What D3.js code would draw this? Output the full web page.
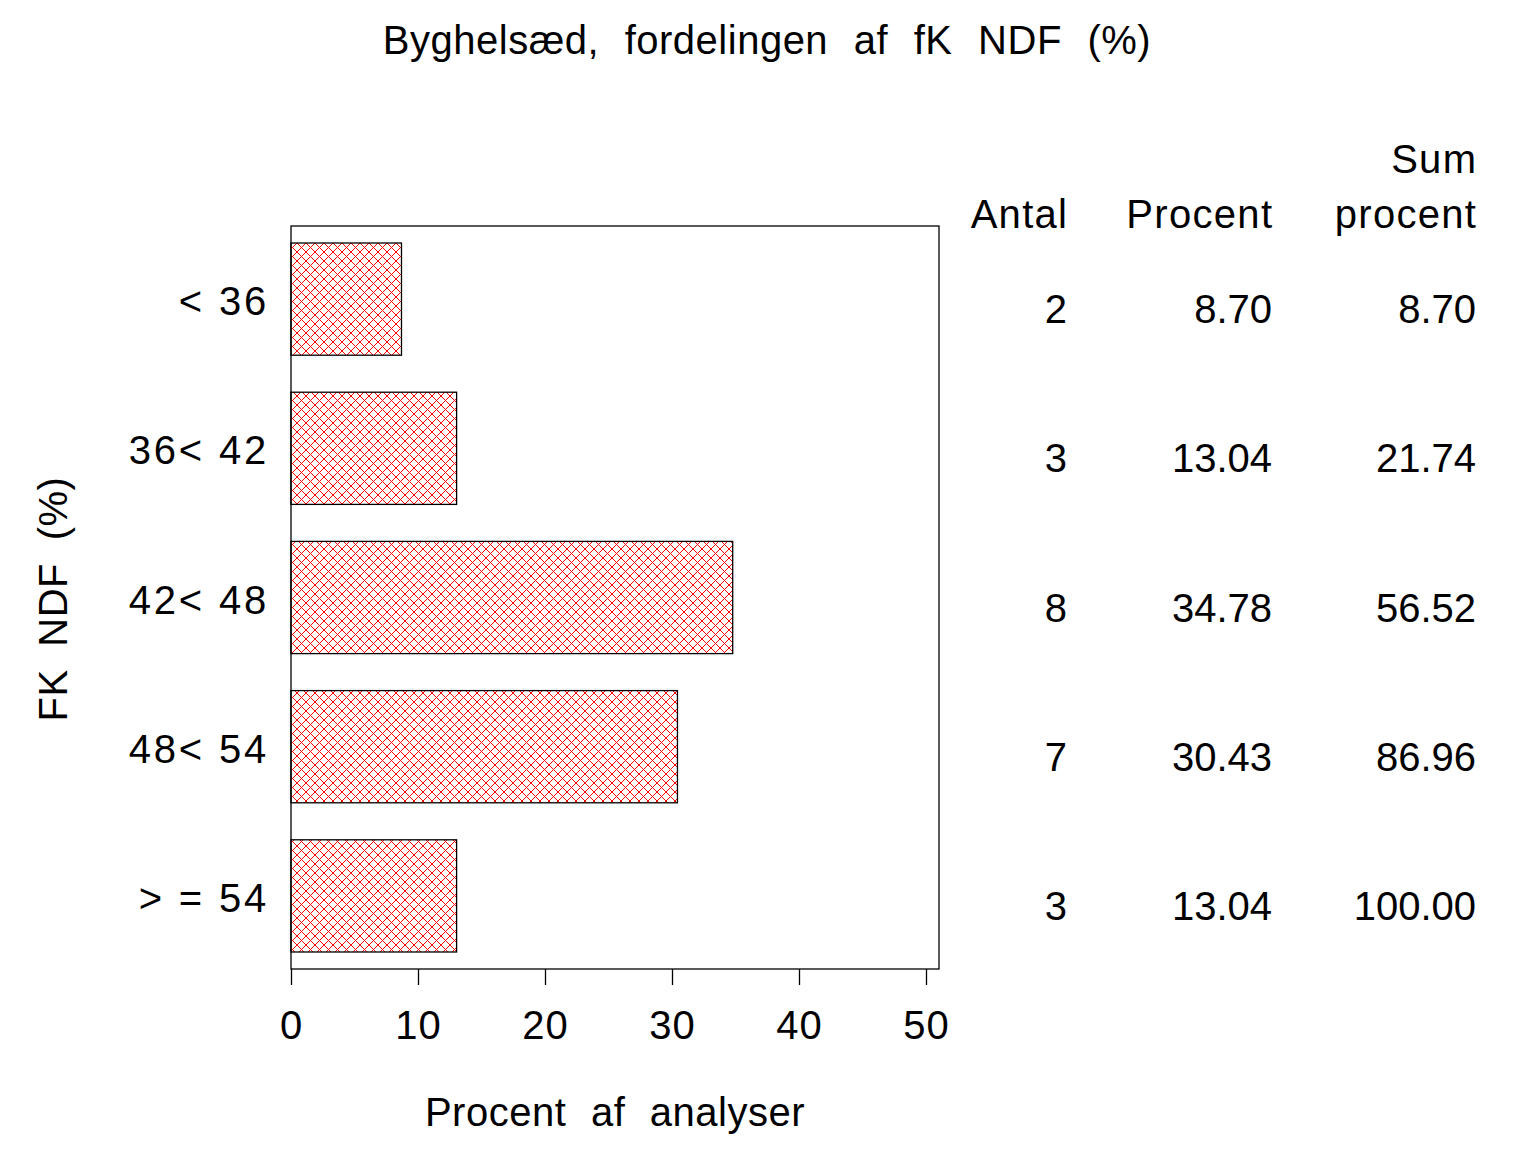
<!DOCTYPE html>
<html><head><meta charset="utf-8">
<script src="https://cdn.jsdelivr.net/npm/d3@7"></script>
<style>
html,body{margin:0;padding:0;background:#fff;}
text{font-family:"Liberation Sans",Arial,sans-serif;fill:#000;}
</style></head><body>
<script>
const categories = ["< 36", "36< 42", "42< 48", "48< 54", "> = 54"];
const counts = [2, 3, 8, 7, 3];
const percents = [8.70, 13.04, 34.78, 30.43, 13.04];
const cumPercents = [8.70, 21.74, 56.52, 86.96, 100.00];
const xTicks = [0, 10, 20, 30, 40, 50];
const titleText = "Byghelsæd, fordelingen af fK NDF (%)";
const xLabel = "Procent af analyser";
const yLabel = "FK NDF (%)";

const W = 1536, H = 1152;
const svg = d3.select("body").append("svg").attr("width", W).attr("height", H);

const defs = svg.append("defs");
const P = 9;
const pat = defs.append("pattern").attr("id", "hatch").attr("patternUnits", "userSpaceOnUse")
  .attr("width", P).attr("height", P);
pat.append("path").attr("d", `M0,0 L${P},${P} M-1,${P-1} L1,${P+1} M${P-1},-1 L${P+1},1`).attr("stroke", "#ff0000").attr("stroke-width", 1).attr("fill", "none");
pat.append("path").attr("d", `M${P},0 L0,${P} M-1,1 L1,-1 M${P-1},${P+1} L${P+1},${P-1}`).attr("stroke", "#ff0000").attr("stroke-width", 1).attr("fill", "none");

const frame = {left: 291, right: 939, top: 226, bottom: 969};
const x = d3.scaleLinear().domain([0, 50]).range([291, 926]);
const y = d3.scaleBand().domain(categories).range([frame.top, frame.bottom]).paddingInner(0.248).paddingOuter(0.114);

const fs = 40;

// title
svg.append("text").attr("x", 767).attr("y", 54).attr("text-anchor", "middle")
  .attr("font-size", fs).attr("letter-spacing", 0.5).attr("word-spacing", 14).style("white-space", "pre").text(titleText);

// frame
svg.append("rect").attr("x", frame.left).attr("y", frame.top)
  .attr("width", frame.right - frame.left).attr("height", frame.bottom - frame.top)
  .attr("fill", "none").attr("stroke", "#000").attr("stroke-width", 1.3);

// bars
svg.append("g").selectAll("rect").data(categories).join("rect")
  .attr("x", x(0)).attr("y", d => y(d))
  .attr("width", (d, i) => x(percents[i]) - x(0)).attr("height", y.bandwidth())
  .attr("fill", "url(#hatch)").attr("stroke", "#000").attr("stroke-width", 1.3);

// x axis
const xAxis = d3.axisBottom(x).tickValues(xTicks).tickSize(16).tickPadding(26).tickFormat(d3.format("d"));
const gx = svg.append("g").attr("transform", `translate(0,${frame.bottom})`).call(xAxis);
gx.select(".domain").remove();
gx.selectAll("line").attr("stroke", "#000").attr("stroke-width", 1.3);
gx.selectAll("text").attr("font-size", fs).attr("letter-spacing", 1).attr("font-family", "Liberation Sans, Arial, sans-serif").attr("fill", "#000");

// y category labels
const gy = svg.append("g").attr("transform", `translate(${frame.left},0)`)
  .call(d3.axisLeft(y).tickSize(0).tickPadding(22));
gy.select(".domain").remove();
gy.selectAll("text").attr("font-size", fs).attr("letter-spacing", 2.8).attr("dy", "0.4em").style("white-space", "pre")
  .attr("font-family", "Liberation Sans, Arial, sans-serif").attr("fill", "#000");

// axis labels
svg.append("text").attr("x", 615).attr("y", 1126).attr("text-anchor", "middle")
  .attr("font-size", fs).attr("letter-spacing", 0.5).attr("word-spacing", 13).style("white-space", "pre").text(xLabel);
svg.append("text").attr("transform", "translate(67,599) rotate(-90)").attr("text-anchor", "middle")
  .attr("font-size", fs).attr("letter-spacing", 0.5).attr("word-spacing", 11).style("white-space", "pre").text(yLabel);

// table
const cols = [
  {x: 1067, head: ["Antal"], vals: counts.map(d => String(d))},
  {x: 1272, head: ["Procent"], vals: percents.map(d => d.toFixed(2))},
  {x: 1476, head: ["Sum", "procent"], vals: cumPercents.map(d => d.toFixed(2))}
];
cols.forEach(c => {
  c.head.forEach((h, j) => {
    const yy = 228 - (c.head.length - 1 - j) * 55;
    svg.append("text").attr("x", c.x + 1.3).attr("y", yy).attr("text-anchor", "end")
      .attr("font-size", fs).attr("letter-spacing", 1.3).text(h);
  });
  categories.forEach((cat, i) => {
    svg.append("text").attr("x", c.x).attr("y", y(cat) + y.bandwidth() / 2 + 24).attr("text-anchor", "end")
      .attr("font-size", fs).attr("letter-spacing", 0).text(c.vals[i]);
  });
});
</script></body></html>
